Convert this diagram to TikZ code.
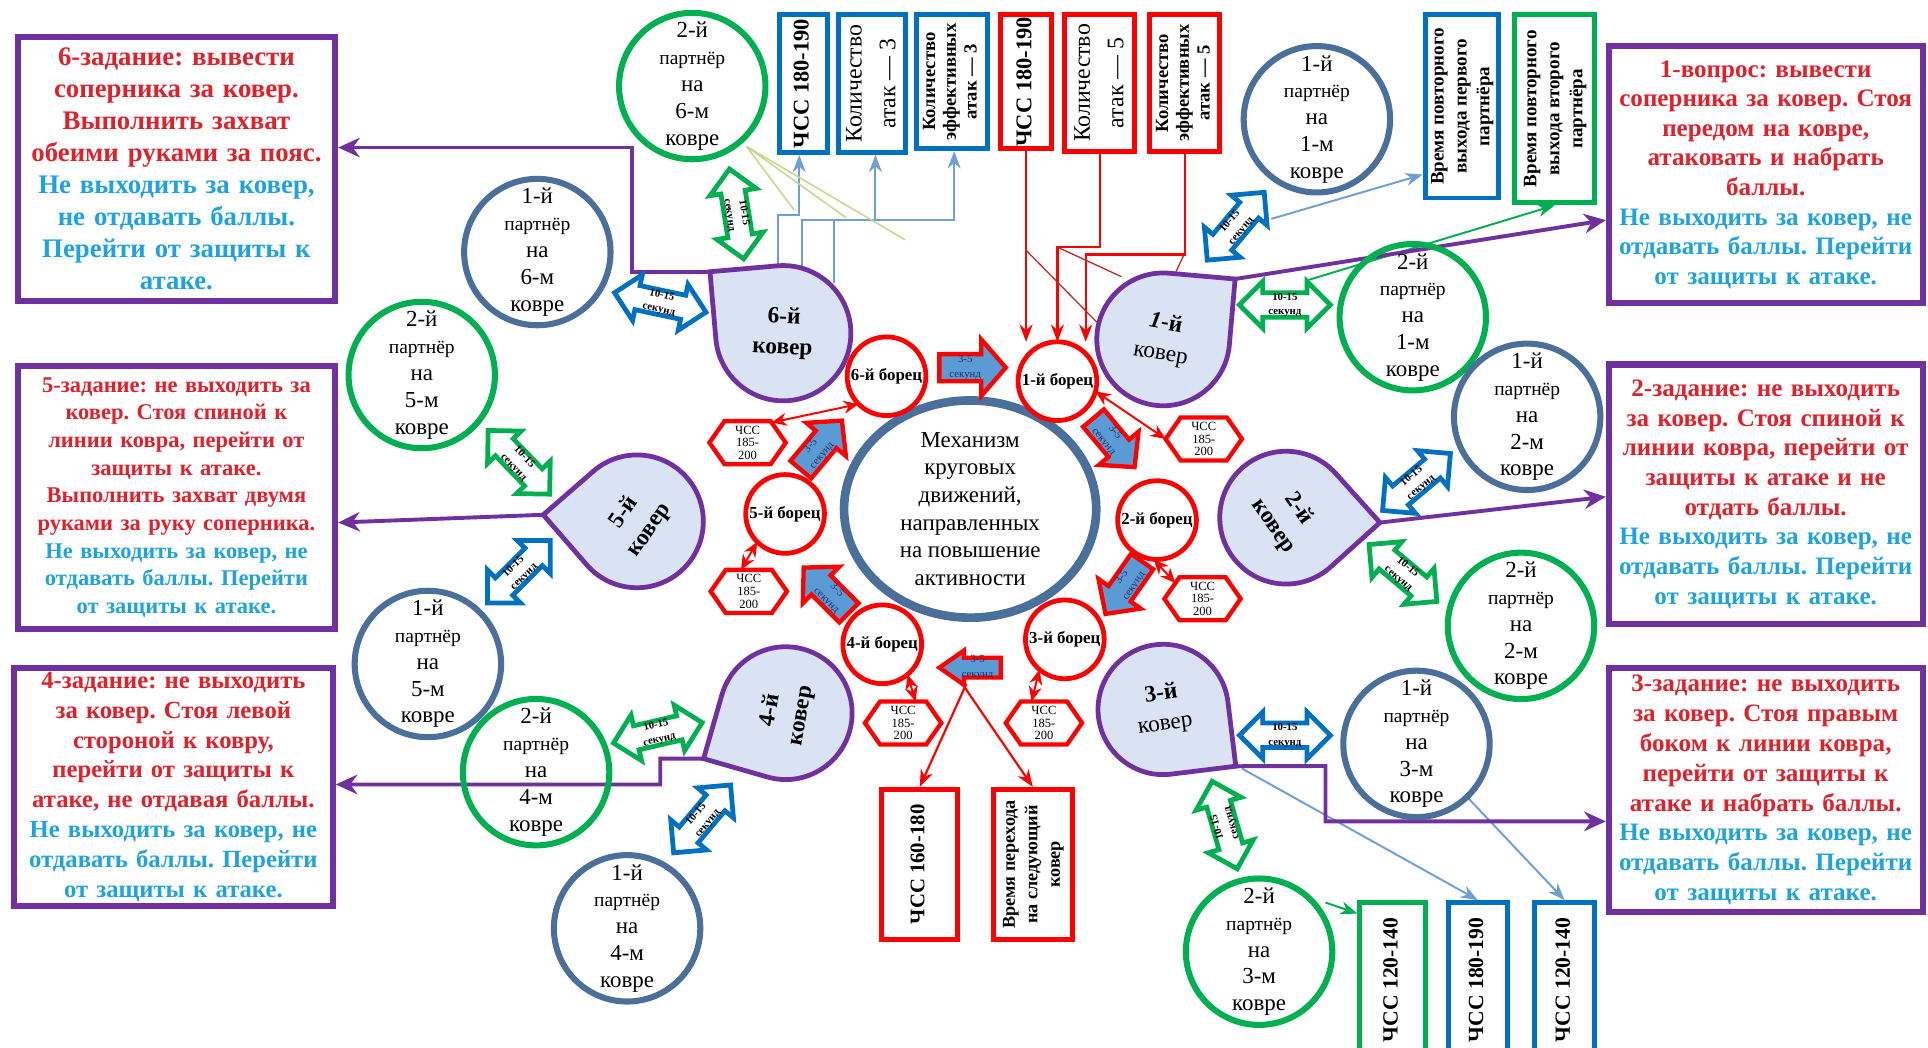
\documentclass[tikz,border=0pt]{standalone}
\usepackage{fontspec}
\setmainfont{Liberation Serif}
\frenchspacing
\usetikzlibrary{calc,arrows.meta,shapes.geometric,shapes.symbols,backgrounds}

\definecolor{purp}{HTML}{7030A0}
\definecolor{tred}{HTML}{E0202A}
\definecolor{tblue}{HTML}{1FA3DC}
\definecolor{gr}{HTML}{00B050}
\definecolor{bl}{HTML}{0070C0}
\definecolor{pb}{HTML}{4A6F9B}
\definecolor{matfill}{HTML}{DAE3F3}
\definecolor{arrfill}{HTML}{5B9BD5}
\definecolor{lblue}{HTML}{6F9FD4}
\definecolor{lgreen}{HTML}{C3D98A}
\definecolor{dred}{HTML}{C0282A}
\definecolor{navy}{HTML}{1F2F5F}

\newcommand\fs[2]{\fontsize{#1}{#2}\selectfont}
% rotated multi-line label for the narrow upright boxes
\newcommand\vtext[2]{\rotatebox{90}{#1\begin{tabular}{@{}c@{}}#2\end{tabular}}}
% text of a partner circle
\newcommand\ptxt[2]{#1\\{\fs{4.5}{6.2}партнёр}\\на\\#2\\ковре}

% teardrop mat: name, centre x, centre y, radius, direction of the corner
\newcommand\drawmat[5]{%
  \coordinate (#1c) at (#2,#3);
  \coordinate (#1) at ($(#1c)+({#5}:{#4*1.41421})$);
  \path[matshape] (#1) -- ($(#1c)+({#5+45}:#4)$)
     arc[start angle={#5+45}, end angle={#5+315}, radius=#4] -- cycle;
}
% single block arrow "3-5 секунд": name, x, y, angle, half length, head half width, body half width, text turn
\newcommand\onearrow[8]{%
  \begin{scope}[shift={(#2,#3)}, rotate=#4]
    \path[blkarrow] (-#5,-#7) -- ({#5-20},-#7) -- ({#5-20},-#6) -- (#5,0)
      -- ({#5-20},#6) -- ({#5-20},#7) -- (-#5,#7) -- cycle;
    \node[arrtxt, transform shape, rotate=#8] (#1) at (-6,0) {3-5\\секунд};
  \end{scope}}
% double block arrow "10-15 секунд": name, x, y, angle, colour, half length
\newcommand\twoarrow[6]{%
  \begin{scope}[shift={(#2,#3)}, rotate=#4]
    \path[dblarrow=#5] (-#6,0) -- ({-#6+19},-19) -- ({-#6+19},-10) -- ({#6-19},-10)
      -- ({#6-19},-19) -- (#6,0) -- ({#6-19},19) -- ({#6-19},10)
      -- ({-#6+19},10) -- ({-#6+19},19) -- cycle;
    \node[dtxt, transform shape] (#1) at (0,0) {10-15\\секунд};
  \end{scope}}

\begin{document}
\begin{tikzpicture}[x=0.01cm, y=-0.01cm,
  every node/.style={inner sep=0pt, outer sep=0pt},
  taskbox/.style={draw=purp, line width=1.4pt, fill=white, align=center,
    text width=2.5cm, outer sep=0.7pt},
  vbox/.style={draw=#1, line width=1.15pt, fill=white, outer sep=0.55pt},
  partA/.style={circle, draw=pb, line width=1.4pt, minimum size=1.19cm,
    align=center, font=\fs{5.3}{6.2}},
  partB/.style={partA, draw=gr},
  wrest/.style={circle, draw=red, line width=1.1pt, fill=white,
    minimum size=0.64cm, font=\fs{3.9}{4.5}\bfseries},
  hexa/.style={signal, signal to=west and east, signal pointer angle=110,
    draw=red, line width=1pt, fill=white, minimum width=0.62cm,
    minimum height=0.35cm, align=center, font=\fs{2.9}{2.9}},
  matshape/.style={draw=purp, line width=1.1pt, fill=matfill},
  mattext/.style={align=center, font=\fs{5.4}{7.1}\bfseries},
  blkarrow/.style={fill=arrfill, draw=red, line width=1pt},
  dblarrow/.style={fill=white, draw=#1, line width=1.1pt},
  arrtxt/.style={align=center, font=\fs{2.5}{3.4}, text=navy},
  dtxt/.style={align=center, font=\fs{2.5}{3.4}\bfseries},
  tip/.style={-{Stealth[length=4pt,width=3pt]}},
  bline/.style={draw=lblue, line width=0.45pt},
  gline/.style={draw=gr, line width=0.45pt},
  rline/.style={draw=red, line width=0.5pt},
  rthin/.style={draw=dred, line width=0.3pt},
  lgline/.style={draw=lgreen, line width=0.35pt},
  rdbl/.style={draw=red, line width=0.45pt,
    {Stealth[length=3.5pt,width=3pt]}-{Stealth[length=3.5pt,width=3pt]}},
  purline/.style={draw=purp, line width=0.9pt,
    -{Stealth[length=5pt,width=4.5pt]}}
]
\useasboundingbox (0,0) rectangle (1568,852);
\clip (0,0) rectangle (1568,852);

% ---------- task boxes ----------
\node[taskbox, minimum width=2.58cm, minimum height=2.14cm, font=\fs{6.2}{7.4}\bfseries] (t6) at (143.5,137.5)
 {\color{tred}6-задание: вывести\\соперника за ковер.\\Выполнить захват\\обеими руками за пояс.\\
  \color{tblue}Не выходить за ковер,\\не отдавать баллы.\\Перейти от защиты к\\атаке.};
\node[taskbox, minimum width=2.58cm, minimum height=2.14cm, font=\fs{5.2}{6.4}\bfseries] (t5) at (143.5,404.5)
 {\color{tred}5-задание: не выходить за\\ковер. Стоя спиной к\\линии ковра, перейти от\\защиты к атаке.\\Выполнить захват двумя\\руками за руку соперника.\\
  \color{tblue}Не выходить за ковер, не\\отдавать баллы. Перейти\\от защиты к атаке.};
\node[taskbox, minimum width=2.59cm, minimum height=1.93cm, font=\fs{5.7}{6.9}\bfseries] (t4) at (141,640)
 {\color{tred}4-задание: не выходить\\за ковер. Стоя левой\\стороной к ковру,\\перейти от защиты к\\атаке, не отдавая баллы.\\
  \color{tblue}Не выходить за ковер, не\\отдавать баллы. Перейти\\от защиты к атаке.};
\node[taskbox, minimum width=2.55cm, minimum height=2.09cm, font=\fs{5.8}{6.85}\bfseries] (t1) at (1436,142)
 {\color{tred}1-вопрос: вывести\\соперника за ковер. Стоя\\передом на ковре,\\атаковать и набрать\\баллы.\\
  \color{tblue}Не выходить за ковер, не\\отдавать баллы. Перейти\\от защиты к атаке.};
\node[taskbox, minimum width=2.55cm, minimum height=2.11cm, font=\fs{5.8}{6.85}\bfseries] (t2) at (1436,402)
 {\color{tred}2-задание: не выходить\\за ковер. Стоя спиной к\\линии ковра, перейти от\\защиты к атаке и не\\отдать баллы.\\
  \color{tblue}Не выходить за ковер, не\\отдавать баллы. Перейти\\от защиты к атаке.};
\node[taskbox, minimum width=2.55cm, minimum height=1.98cm, font=\fs{5.8}{6.9}\bfseries] (t3) at (1436,642.5)
 {\color{tred}3-задание: не выходить\\за ковер. Стоя правым\\боком к линии ковра,\\перейти от защиты к\\атаке и набрать баллы.\\
  \color{tblue}Не выходить за ковер, не\\отдавать баллы. Перейти\\от защиты к атаке.};

% ---------- upright boxes ----------
\node[vbox=bl, minimum width=0.39cm, minimum height=1.12cm] (v1) at (653.5,68) {\vtext{\fs{5.2}{6}\bfseries}{ЧСС 180-190}};
\node[vbox=bl, minimum width=0.46cm, minimum height=1.12cm] (v2) at (709,68) {\vtext{\fs{5.5}{7.8}}{Количество\\атак — 3}};
\node[vbox=bl, minimum width=0.58cm, minimum height=1.09cm] (v3) at (774,66.5) {\vtext{\fs{4.3}{4.8}\bfseries}{Количество\\эффективных\\атак — 3}};
\node[vbox=red, minimum width=0.41cm, minimum height=1.09cm] (v4) at (834.5,66.5) {\vtext{\fs{5.2}{6}\bfseries}{ЧСС 180-190}};
\node[vbox=red, minimum width=0.57cm, minimum height=1.11cm] (v5) at (894.5,67.5) {\vtext{\fs{5.5}{7.8}}{Количество\\атак — 5}};
\node[vbox=red, minimum width=0.57cm, minimum height=1.11cm] (v6) at (963.5,67.5) {\vtext{\fs{4.3}{4.8}\bfseries}{Количество\\эффективных\\атак — 5}};
\node[vbox=bl, minimum width=0.60cm, minimum height=1.49cm] (v7) at (1189,86.5) {\vtext{\fs{4.4}{5.3}\bfseries}{Время повторного\\выхода первого\\партнёра}};
\node[vbox=gr, minimum width=0.65cm, minimum height=1.53cm] (v8) at (1264.5,88.5) {\vtext{\fs{4.4}{5.3}\bfseries}{Время повторного\\выхода второго\\партнёра}};
\node[vbox=red, minimum width=0.62cm, minimum height=1.22cm] (v9) at (748,703) {\vtext{\fs{4.8}{5.5}\bfseries}{ЧСС 160-180}};
\node[vbox=red, minimum width=0.64cm, minimum height=1.22cm] (v10) at (840,703) {\vtext{\fs{4.2}{5.2}\bfseries}{Время перехода\\на следующий\\ковер}};
\node[vbox=gr, minimum width=0.53cm, minimum height=1.26cm] (v11) at (1132.5,797) {\vtext{\fs{5}{6}\bfseries}{ЧСС 120-140}};
\node[vbox=bl, minimum width=0.48cm, minimum height=1.26cm] (v12) at (1202,797) {\vtext{\fs{5}{6}\bfseries}{ЧСС 180-190}};
\node[vbox=bl, minimum width=0.49cm, minimum height=1.26cm] (v13) at (1272.5,797) {\vtext{\fs{5}{6}\bfseries}{ЧСС 120-140}};

% ---------- mats ----------
\drawmat{mat6}{637}{271}{55}{-140}
\drawmat{mat1}{946}{276}{54}{-40}
\drawmat{mat2}{1046}{421}{54}{3}
\drawmat{mat3}{946}{577}{53}{38}
\drawmat{mat4}{639}{580}{54}{151}
\drawmat{mat5}{518}{424}{54}{184}
\node[mattext, rotate=-3] (mat6t) at (mat6c) {6-й\\ковер};
\node[mattext, rotate=-10] (mat1t) at (mat1c) {\textit{1}-й\\\mdseries ковер};
\node[mattext, rotate=-55] (mat2t) at (mat2c) {2-й\\ковер};
\node[mattext, rotate=8] (mat3t) at (mat3c) {3-й\\\mdseries ковер};
\node[mattext, rotate=80] (mat4t) at (mat4c) {4-й\\ковер};
\node[mattext, rotate=55] (mat5t) at (mat5c) {5-й\\ковер};

% ---------- partners ----------
\node[partB] (p6b) at (563,70) {\ptxt{2-й}{6-м}};
\node[partA] (p6a) at (437,205) {\ptxt{1-й}{6-м}};
\node[partB] (p5b) at (343,305) {\ptxt{2-й}{5-м}};
\node[partA] (p5a) at (348,540) {\ptxt{1-й}{5-м}};
\node[partB] (p4b) at (436,628) {\ptxt{2-й}{4-м}};
\node[partA] (p4a) at (510,755) {\ptxt{1-й}{4-м}};
\node[partA] (p1a) at (1071,97) {\ptxt{1-й}{1-м}};
\node[partB] (p1b) at (1149,258) {\ptxt{2-й}{1-м}};
\node[partA] (p2a) at (1242,339) {\ptxt{1-й}{2-м}};
\node[partB] (p2b) at (1237,509) {\ptxt{2-й}{2-м}};
\node[partA] (p3a) at (1152,605) {\ptxt{1-й}{3-м}};
\node[partB] (p3b) at (1024,774) {\ptxt{2-й}{3-м}};

% ---------- 10-15 second transfers ----------
\twoarrow{d6a}{599}{174}{-81}{gr}{37}
\twoarrow{d6b}{537}{246}{-12}{bl}{38}
\twoarrow{d5a}{422}{376}{-46}{gr}{36}
\twoarrow{d5b}{422}{465}{45}{bl}{36}
\twoarrow{d4a}{535}{596}{13}{gr}{37}
\twoarrow{d4b}{571}{666}{50}{bl}{36}
\twoarrow{d1a}{1005}{184}{50}{bl}{36}
\twoarrow{d1b}{1045}{248}{0}{gr}{37}
\twoarrow{d2a}{1152}{392}{40}{bl}{36}
\twoarrow{d2b}{1141}{466}{-40}{gr}{36}
\twoarrow{d3a}{1045}{598}{0}{bl}{37}
\twoarrow{d3b}{996}{671}{106}{gr}{37}

% ---------- centre ----------
\node[ellipse, draw=pb, line width=2pt, fill=white, minimum width=2.05cm,
  minimum height=1.67cm, align=center, font=\fs{5.3}{6.4}] (core) at (789,414)
  {Механизм\\круговых\\движений,\\направленных\\на повышение\\активности};

% ---------- wrestlers ----------
\node[wrest] (w6) at (721,306) {6-й борец};
\node[wrest] (w1) at (860,310) {1-й борец};
\node[wrest] (w2) at (941,423) {2-й борец};
\node[wrest] (w3) at (866,520) {3-й борец};
\node[wrest] (w4) at (717.5,524) {4-й борец};
\node[wrest] (w5) at (638.5,418) {5-й борец};

\node[hexa] (h1) at (608,360) {ЧСС\\185-\\200};
\node[hexa] (h2) at (979,357) {ЧСС\\185-\\200};
\node[hexa] (h3) at (609,481) {ЧСС\\185-\\200};
\node[hexa] (h4) at (978,487) {ЧСС\\185-\\200};
\node[hexa] (h5) at (734.5,588) {ЧСС\\185-\\200};
\node[hexa] (h6) at (849,588) {ЧСС\\185-\\200};

\draw[rdbl] (w6.225) -- (h1.40);
\draw[rdbl] (w1.-15) -- (h2.west);
\draw[rdbl] (w5.225) -- (h3.110);
\draw[rdbl] (w2.-95) -- (h4.150);
\draw[rdbl] (w4.-50) -- (h5.60);
\draw[rdbl] (w3.230) -- (h6.120);

% ---------- 3-5 second moves ----------
\onearrow{a61}{791}{299}{0}{27}{23}{11}{0}
\onearrow{a12}{906}{360}{-50}{26}{21}{11}{0}
\onearrow{a23}{914}{478}{-125}{26}{21}{11}{180}
\onearrow{a34}{789}{543}{180}{25}{14}{8}{180}
\onearrow{a45}{672}{480}{135}{26}{21}{11}{180}
\onearrow{a56}{668}{362}{50}{26}{21}{11}{0}

% ---------- connectors ----------
\begin{pgfonlayer}{background}
\fill[white] (0,0) rectangle (1568,852);
% from mat 6 to its measurement boxes
\coordinate (m6a) at (633,217);
\coordinate (m6b) at (652,217);
\coordinate (m6c) at (678,230);
\coordinate (m6d) at (678,179);
\coordinate (m6e) at (712,179);
\draw[bline, tip] (m6a) |- (650,175) -- (650,0 |- v1.south);
\draw[bline, tip] (m6b) |- (776,179) -- (776,0 |- v3.south);
\draw[bline] (m6c) -- (m6d);
\draw[bline, tip] (m6e) -- (712,0 |- v2.south);
% fan from the second partner of mat 6
\coordinate (g0) at (607,119);
\coordinate (g1) at (646,171);
\coordinate (g2) at (688,177);
\coordinate (g3) at (736,195);
\draw[lgline] (g0) -- (g1) (g0) -- (g2) (g0) -- (g3);
% from the red boxes to the first wrestler
\draw[rline, tip] (v4.south) -- (v4.south |- w1.north);
\draw[rline, tip] (v5.south) |- (860,201) -- (860,0 |- w1.north);
\draw[rline, tip] (v6.south) |- (883,207) -- (883,0 |- w1.north);
\coordinate (r1) at (834,203);
\coordinate (r2) at (892,262);
\coordinate (r3) at (860,201);
\coordinate (r4) at (912,225);
\coordinate (r5) at (963,207);
\coordinate (r6) at (955,224);
\draw[rthin] (r1) -- (r2) (r3) -- (r4) (r5) -- (r6);
% partners of mat 1 to their time boxes
\coordinate (k1) at (1034,178);
\coordinate (k2) at (1063,228);
\draw[bline, tip] (k1) -- (v7.west |- 0,142);
\draw[gline, tip] (k2) -- (v8.south);
% mat 3 and its partners to the pulse boxes
\coordinate (k3) at (1010,625);
\coordinate (k4) at (1193,648);
\coordinate (k5) at (1078,734);
\draw[bline, tip] (k3) -- (v12.north);
\draw[bline, tip] (k4) -- (v13.north);
\draw[gline, tip] (k5) -- (v11.west |- 0,743);
% from the 3-5 s arrow to the boxes below
\coordinate (k6) at (786,556);
\coordinate (k7) at (777,548);
\draw[rline, tip] (k6) -- (v9.north);
\draw[rline, tip] (k7) -- (v10.north);
% mats to task boxes
\draw[purline] (mat6) -| (514,120) -- (t6.east |- 0,120);
\draw[purline] (mat5) -- (t5.east |- 0,425);
\draw[purline] (mat4) -- (537,617) |- (t4.east |- 0,638);
\draw[purline] (mat1) -- (t1.west |- 0,179);
\draw[purline] (mat2) -- (t2.west |- 0,404);
\draw[purline] (mat3) -- (1078,623) |- (t3.west |- 0,668);
\end{pgfonlayer}
\end{tikzpicture}
\end{document}
